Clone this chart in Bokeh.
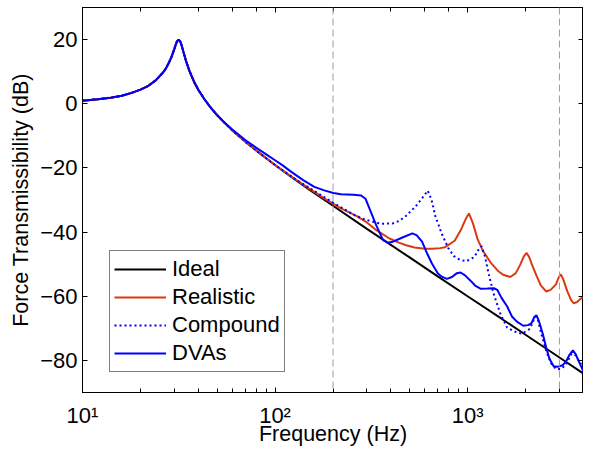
from bokeh.plotting import figure
from bokeh.models import Span, Legend, LegendItem, LinearAxis, LogAxis, FixedTicker, LogTicker
from bokeh.embed import file_html
from bokeh.resources import INLINE

# ---------------- data ----------------
# shared low-frequency part (all four curves coincide here)
low_f = [10, 12, 14, 16, 18, 20, 22, 24, 26, 27, 28, 29, 30, 30.5, 31, 31.6,
         32.2, 32.8, 33.5, 34.5, 36, 38, 40, 43, 46]
low_db = [0.9, 1.4, 1.9, 2.5, 3.4, 4.4, 5.6, 7.3, 9.5, 10.8, 12.6, 14.6, 17.1, 18.4, 19.5, 20.0,
          19.4, 18.0, 16.0, 13.3, 10.1, 6.8, 4.3, 1.4, -1.0]

mid_f = [50, 55, 60, 70, 80, 90, 100]
mid_db = [-3.5, -6.1, -8.3, -11.8, -14.6, -17.0, -19.1]

ideal_tail_f = [120, 150, 200, 300, 500, 700, 1000, 1500, 2000, 3000, 4000]
ideal_tail_db = [-22.6, -26.7, -31.8, -39.0, -47.9, -53.8, -60.0, -67.0, -72.0, -79.1, -84.1]

real_tail_f = [120, 150, 180, 220, 266, 300, 336, 393, 440, 480, 530, 600, 660, 720, 764,
               857, 927, 984, 1016, 1064, 1127, 1200, 1318, 1450, 1541, 1667, 1780, 1872,
               1960, 2026, 2090, 2180, 2277, 2400, 2557, 2700, 2876, 2980, 3050, 3130, 3297,
               3450, 3564, 3700, 4000]
real_tail_db = [-22.5, -26.4, -29.5, -32.6, -35.0, -37.0, -39.4, -42.0, -43.3, -44.1, -44.8,
                -45.2, -45.2, -45.0, -44.7, -42.7, -39.1, -35.6, -34.2, -37.1, -42.2, -45.8,
                -49.5, -52.3, -53.4, -54.0, -52.8, -50.3, -47.6, -46.5, -47.8, -50.8, -53.5,
                -56.6, -58.5, -58.0, -56.3, -54.0, -53.2, -54.5, -58.5, -61.2, -62.2, -61.8,
                -60.0]

comp_tail_f = [120, 132, 160, 200, 228, 260, 288, 336, 364, 409, 442, 478, 537, 580, 621,
               650, 680, 734, 794, 850, 910, 984, 1084, 1140, 1180, 1230, 1291, 1370, 1483,
               1603, 1734, 1908, 2106, 2200, 2260, 2330, 2414, 2557, 2716, 2876, 3050, 3236,
               3470, 3637, 4000]
comp_tail_db = [-22.4, -24.1, -27.2, -30.8, -32.8, -34.8, -35.9, -37.1, -37.4, -37.3, -36.5,
                -35.0, -32.0, -29.5, -27.1, -30.0, -35.0, -40.5, -45.0, -47.5, -48.6, -49.1,
                -47.8, -45.5, -44.4, -47.5, -53.4, -59.5, -65.6, -69.7, -70.9, -71.7, -70.2,
                -67.5, -66.3, -67.8, -71.7, -76.9, -80.9, -82.7, -82.7, -81.4, -77.9, -78.4,
                -82.5]

dva_tail_f = [50, 55, 60, 70, 80, 90, 100, 110, 120, 140, 160, 180, 201, 220, 256, 280, 295,
              311, 336, 364, 385, 410, 459, 517, 545, 580, 620, 653, 700, 734, 780, 830, 880,
              920, 970, 1042, 1100, 1172, 1270, 1370, 1426, 1500, 1603, 1700, 1803, 1945,
              2060, 2143, 2220, 2277, 2340, 2457, 2560, 2661, 2800, 2932, 3112, 3236, 3380,
              3525, 3640, 3760, 4000]
dva_tail_db = [-3.6, -6.0, -8.0, -11.3, -13.7, -15.8, -17.6, -19.3, -21.0, -23.8, -25.9,
               -27.0, -27.8, -28.2, -28.4, -28.6, -29.6, -33.0, -38.0, -42.5, -43.3, -43.0,
               -41.7, -40.4, -41.0, -43.0, -47.0, -49.8, -52.8, -53.9, -54.6, -54.0, -52.8,
               -52.6, -53.5, -55.3, -56.8, -57.7, -57.6, -57.5, -58.0, -60.5, -63.1, -66.3,
               -67.9, -69.2, -69.0, -68.5, -66.5, -65.9, -67.5, -71.7, -76.0, -79.5, -81.8,
               -82.0, -81.5, -80.5, -78.3, -76.9, -78.0, -80.0, -83.5]

marker_freqs = [200, 3000]
y_ticks = [-80, -60, -40, -20, 0, 20]
x_tick_labels = {10: "10\u00b9", 100: "10\u00b2", 1000: "10\u00b3"}
series_names = ["Ideal", "Realistic", "Compound", "DVAs"]

ideal_f = low_f + mid_f + ideal_tail_f
ideal_db = low_db + mid_db + ideal_tail_db
real_f = low_f + mid_f + real_tail_f
real_db = low_db + mid_db + real_tail_db
comp_f = low_f + mid_f + comp_tail_f
comp_db = low_db + mid_db + comp_tail_db
dva_f = low_f + dva_tail_f
dva_db = low_db + dva_tail_db

FONT = "Liberation Sans"
RED = "#DA3A12"
BLUE = "#0000FF"

p = figure(width=583, height=448, x_axis_type="log", x_range=(10, 4000), y_range=(-90, 30),
           output_backend="svg", toolbar_location=None,
           min_border_left=82, min_border_right=0, min_border_top=7, min_border_bottom=40)
p.grid.visible = False
p.outline_line_color = "black"
p.outline_line_width = 1
p.background_fill_color = "white"
p.border_fill_color = "white"

# bottom axis
xa = p.xaxis[0]
xa.axis_label = "Frequency (Hz)"
xa.major_label_overrides = x_tick_labels
# left axis
ya = p.yaxis[0]
ya.axis_label = "Force Transmissibility (dB)"
ya.ticker = FixedTicker(ticks=y_ticks, minor_ticks=[])

for ax in (xa, ya):
    ax.axis_line_color = "black"
    ax.major_tick_in = 5
    ax.major_tick_out = 0
    ax.minor_tick_in = 4
    ax.minor_tick_out = 0
    ax.major_tick_line_color = "black"
    ax.minor_tick_line_color = "black"
    ax.major_label_text_font = FONT
    ax.major_label_text_font_size = "22px"
    ax.major_label_text_color = "black"
    ax.axis_label_text_font = FONT
    ax.axis_label_text_font_size = "21.5px"
    ax.axis_label_text_font_style = "normal"
    ax.axis_label_text_color = "black"
xa.major_label_standoff = 10
xa.axis_label_standoff = -9
ya.major_label_standoff = 5
ya.axis_label_standoff = 4

# box axes (ticks only) on top and right
top = LogAxis(ticker=LogTicker(), major_label_text_font_size="1px", major_label_text_color=None,
              major_label_standoff=0, axis_label_standoff=0,
              major_tick_in=5, major_tick_out=0, minor_tick_in=4, minor_tick_out=0,
              axis_line_color="black")
right = LinearAxis(ticker=FixedTicker(ticks=y_ticks, minor_ticks=[]),
                   major_label_text_font_size="1px", major_label_text_color=None,
                   major_label_standoff=0, axis_label_standoff=0,
                   major_tick_in=5, major_tick_out=0, minor_tick_in=0, minor_tick_out=0,
                   axis_line_color="black")
p.add_layout(top, "above")
p.add_layout(right, "right")

for f in marker_freqs:
    p.add_layout(Span(location=f, dimension="height", line_color="#9c9c9c",
                      line_width=1, line_dash="7 4"))

r1 = p.line(ideal_f, ideal_db, line_color="black", line_width=2)
r2 = p.line(real_f, real_db, line_color=RED, line_width=2)
r3 = p.line(comp_f, comp_db, line_color=BLUE, line_width=2, line_dash="2 3")
r4 = p.line(dva_f, dva_db, line_color=BLUE, line_width=2)

legend = Legend(items=[LegendItem(label=n, renderers=[r]) for n, r in zip(series_names, [r1, r2, r3, r4])],
                location=(27, 20), border_line_color="black", border_line_width=1,
                background_fill_color="white", background_fill_alpha=1.0,
                label_text_font=FONT, label_text_font_size="22px", label_text_color="black",
                padding=4, spacing=0, label_height=28, glyph_height=28, glyph_width=52,
                label_standoff=6, margin=0)
p.add_layout(legend, "center")

open("out.html", "w").write(file_html(p, INLINE))
